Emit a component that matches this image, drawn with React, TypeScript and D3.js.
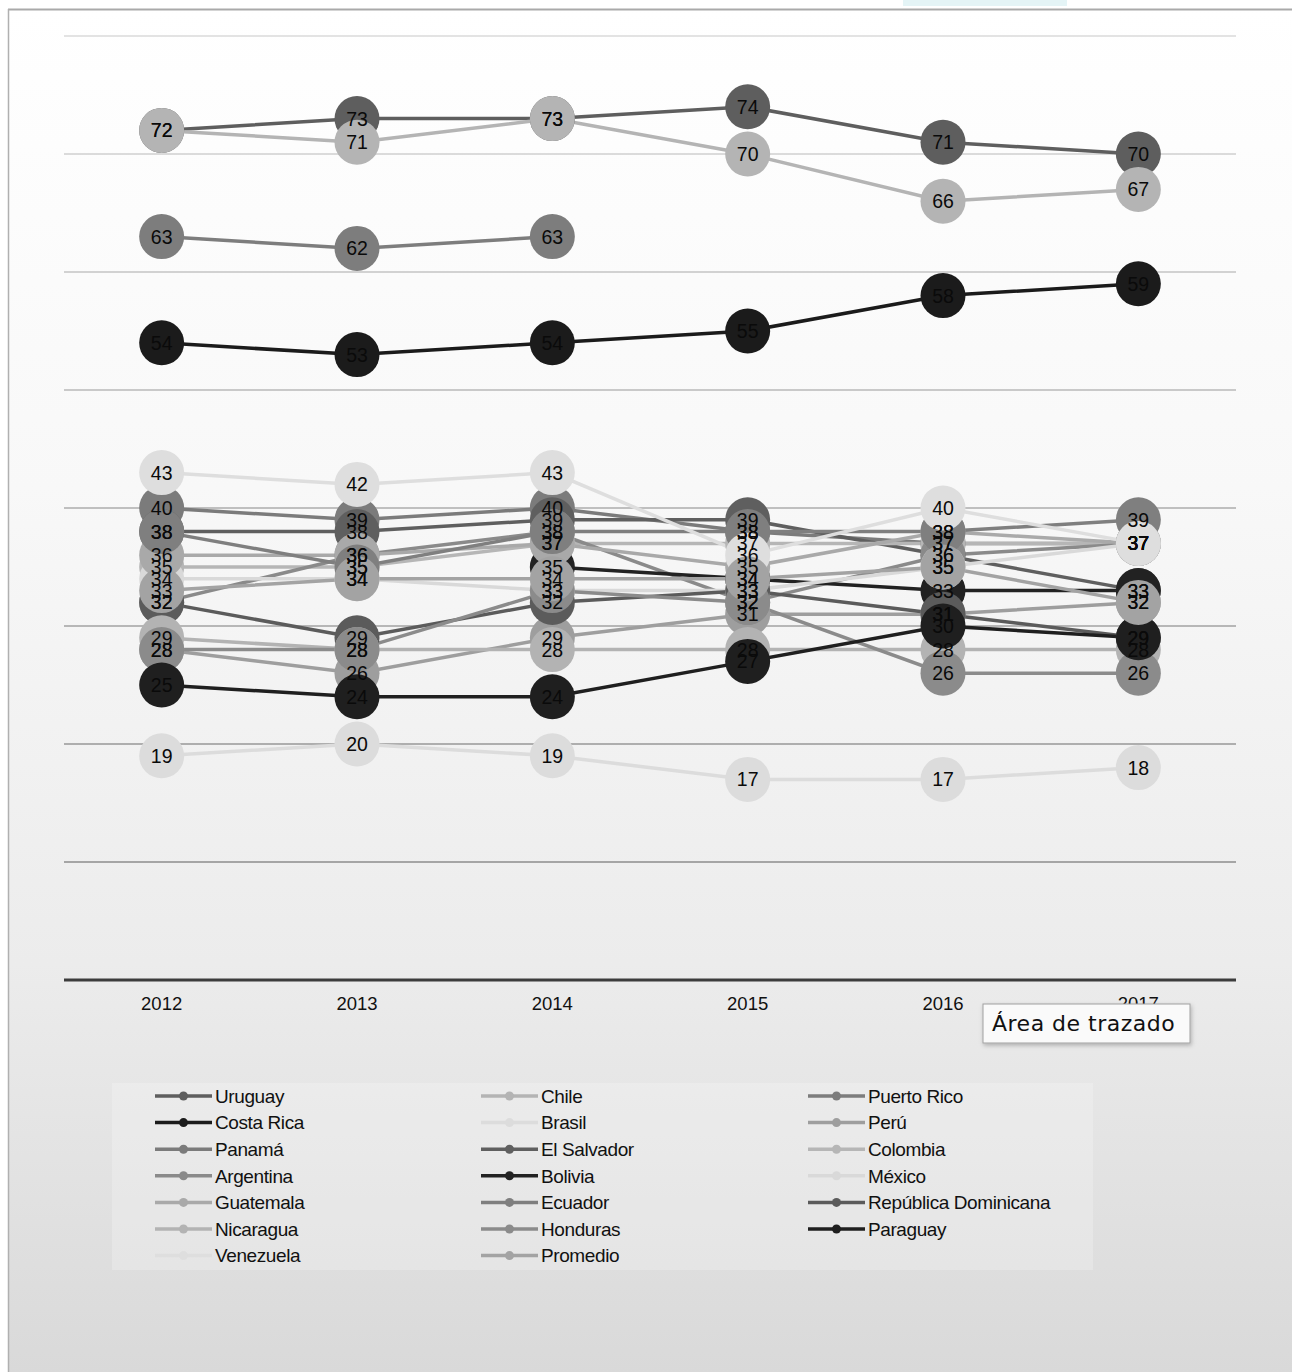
import React from "react";
import * as d3 from "d3";

const years = ["2012", "2013", "2014", "2015", "2016", "2017"];
const yTicks = [0, 10, 20, 30, 40, 50, 60, 70, 80];

const countries = [
  "Uruguay", "Chile", "Puerto Rico",
  "Costa Rica", "Brasil", "Perú",
  "Panamá", "El Salvador", "Colombia",
  "Argentina", "Bolivia", "México",
  "Guatemala", "Ecuador", "República Dominicana",
  "Nicaragua", "Honduras", "Paraguay",
  "Venezuela", "Promedio",
];

const colors = [
  "#5e5e5e", "#b4b4b4", "#7d7d7d",
  "#1b1b1b", "#dcdcdc", "#9e9e9e",
  "#7b7b7b", "#5f5f5f", "#b6b6b6",
  "#8a8a8a", "#222222", "#d9d9d9",
  "#a9a9a9", "#7f7f7f", "#5b5b5b",
  "#b3b3b3", "#8b8b8b", "#1f1f1f",
  "#dedede", "#a3a3a3",
];

type V = number | null;
const uruguay: V[] = [72, 73, 73, 74, 71, 70];
const chile: V[] = [72, 71, 73, 70, 66, 67];
const puertoRico: V[] = [63, 62, 63, null, null, null];
const costaRica: V[] = [54, 53, 54, 55, 58, 59];
const brasil: V[] = [19, 20, 19, 17, 17, 18];
const peru: V[] = [28, 26, 29, 31, 31, 32];
const panama: V[] = [40, 39, 40, 38, 37, 37];
const elSalvador: V[] = [38, 38, 39, 39, 36, 33];
const colombia: V[] = [35, 35, 37, 37, 37, 37];
const argentina: V[] = [32, 36, 38, 32, 36, 37];
const bolivia: V[] = [null, null, 35, 34, 33, 33];
const mexico: V[] = [34, 34, 33, 33, 35, 37];
const guatemala: V[] = [36, 36, 37, 35, 38, 37];
const ecuador: V[] = [38, 35, 38, 38, 38, 39];
const repDominicana: V[] = [32, 29, 32, 33, 31, 29];
const nicaragua: V[] = [29, 28, 28, 28, 28, 28];
const honduras: V[] = [28, 28, 33, 32, 26, 26];
const paraguay: V[] = [25, 24, 24, 27, 30, 29];
const venezuela: V[] = [43, 42, 43, 36, 40, 37];
const promedio: V[] = [33, 34, 34, 34, 35, 32];

const seriesValues: V[][] = [
  uruguay, chile, puertoRico,
  costaRica, brasil, peru,
  panama, elSalvador, colombia,
  argentina, bolivia, mexico,
  guatemala, ecuador, repDominicana,
  nicaragua, honduras, paraguay,
  venezuela, promedio,
];

const W = 1292;
const H = 1372;
const FONT = "'Liberation Sans', Arial, Helvetica, sans-serif";

export default function App() {
  const x = d3.scaleBand<string>().domain(years).range([64, 1236]);
  const xc = (yr: string) => (x(yr) as number) + x.bandwidth() / 2;
  const y = d3.scaleLinear().domain([0, 80]).range([980, 36]);
  const gridColor = d3.scaleLinear<string>().domain([36, 862]).range(["#dadada", "#8c8c8c"]);

  const line = d3
    .line<V>()
    .defined((d) => d !== null)
    .x((_, i) => xc(years[i]))
    .y((d) => y(d as number));

  const legendCols = [155, 481, 808];
  const legendRow0 = 1096;
  const legendDy = 26.6;

  return (
    <svg
      width={W}
      height={H}
      style={{ position: "absolute", left: 0, top: 0 }}
      xmlns="http://www.w3.org/2000/svg"
    >
      <defs>
        <linearGradient id="bg" x1="0" y1="0" x2="0" y2="1">
          <stop offset="0" stopColor="#ffffff" />
          <stop offset="0.35" stopColor="#f8f8f8" />
          <stop offset="0.7" stopColor="#ececec" />
          <stop offset="1" stopColor="#d9d9d9" />
        </linearGradient>
        <filter id="shadow" x="-10%" y="-20%" width="130%" height="160%">
          <feDropShadow dx="1" dy="2" stdDeviation="2" floodColor="#000" floodOpacity="0.25" />
        </filter>
      </defs>

      <rect x={0} y={0} width={W} height={H} fill="#ffffff" />
      <rect x={903} y={0} width={164} height={6} fill="#e4f4f6" />
      <rect x={8} y={9} width={W - 8} height={H - 9} fill="url(#bg)" />
      <line x1={8} x2={W} y1={9.5} y2={9.5} stroke="#a9a9a9" strokeWidth={2} />
      <line x1={8.5} x2={8.5} y1={9} y2={H} stroke="#b0b0b0" strokeWidth={1.5} />

      {/* gridlines */}
      {yTicks
        .filter((t) => t > 0)
        .map((t) => (
          <line
            key={t}
            x1={64}
            x2={1236}
            y1={y(t)}
            y2={y(t)}
            stroke={gridColor(y(t))}
            strokeWidth={1.5}
          />
        ))}
      <line x1={64} x2={1236} y1={y(0)} y2={y(0)} stroke="#3c3c3c" strokeWidth={3} />

      {/* lines */}
      {seriesValues.map((vals, si) => (
        <path
          key={"l" + si}
          d={line(vals) || ""}
          fill="none"
          stroke={colors[si]}
          strokeWidth={3.5}
        />
      ))}

      {/* markers */}
      {seriesValues.map((vals, si) =>
        vals.map((v, i) =>
          v === null ? null : (
            <circle key={"c" + si + "-" + i} cx={xc(years[i])} cy={y(v)} r={22.5} fill={colors[si]} />
          )
        )
      )}

      {/* labels */}
      {seriesValues.map((vals, si) =>
        vals.map((v, i) =>
          v === null ? null : (
            <text
              key={"t" + si + "-" + i}
              x={xc(years[i])}
              y={y(v)}
              dy="0.36em"
              textAnchor="middle"
              fontFamily={FONT}
              fontSize={19.5}
              fill="#0a0a0a"
            >
              {v}
            </text>
          )
        )
      )}

      {/* x axis labels */}
      {years.map((yr) => (
        <text
          key={yr}
          x={xc(yr)}
          y={1010}
          textAnchor="middle"
          fontFamily={FONT}
          fontSize={18.5}
          fill="#111"
        >
          {yr}
        </text>
      ))}

      {/* tooltip */}
      <g filter="url(#shadow)">
        <rect x={983} y={1004} width={207} height={39} fill="#fafafa" stroke="#a0a0a0" strokeWidth={1} />
      </g>
      <text
        x={992}
        y={1031}
        fontFamily="'DejaVu Sans', sans-serif"
        fontSize={22}
        letterSpacing={0.5}
        fill="#111"
      >
        Área de trazado
      </text>

      {/* legend */}
      <rect x={112} y={1083} width={981} height={187} fill="#ffffff" fillOpacity={0.22} />
      {countries.map((c, i) => {
        const col = i % 3;
        const row = Math.floor(i / 3);
        const lx = legendCols[col];
        const ly = legendRow0 + row * legendDy;
        return (
          <g key={c}>
            <line x1={lx} x2={lx + 57} y1={ly} y2={ly} stroke={colors[i]} strokeWidth={3.5} />
            <circle cx={lx + 28.5} cy={ly} r={4.5} fill={colors[i]} />
            <text
              x={lx + 60}
              y={ly}
              dy="0.36em"
              fontFamily={FONT}
              fontSize={19}
              fill="#111"
              letterSpacing={-0.4}
            >
              {c}
            </text>
          </g>
        );
      })}
    </svg>
  );
}
